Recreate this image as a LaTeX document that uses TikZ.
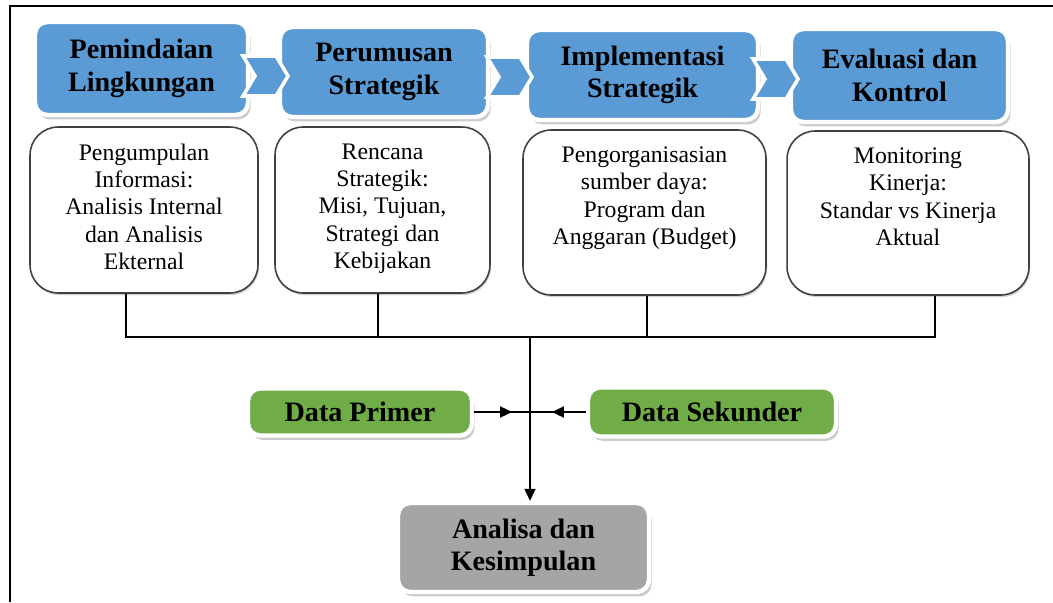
\documentclass[tikz,border=0pt]{standalone}
\usepackage{fontspec}
\setmainfont{Liberation Serif}
\usepackage{xcolor}
\usetikzlibrary{shadows,arrows.meta}
\definecolor{sblue}{HTML}{5B9BD5}
\definecolor{sgreen}{HTML}{70AD47}
\definecolor{sgray}{HTML}{A5A5A5}

\begin{document}
\begin{tikzpicture}[x=0.02cm,y=-0.02cm,
  tile/.style={draw=white,line width=2.5pt,rounded corners=7pt,align=center,
    font=\fontsize{16}{18.5}\selectfont\bfseries,
    drop shadow={shadow xshift=1.5pt,shadow yshift=-2.5pt,fill=black!40,opacity=.5}},
  desc/.style={draw=black!75,line width=0.9pt,fill=white,rounded corners=16pt,
    drop shadow={shadow xshift=0.6pt,shadow yshift=-1.2pt,fill=black!30,opacity=.6}},
  txt/.style={anchor=north,align=center,inner sep=0pt,font=\fontsize{13.5}{15.6}\selectfont},
  chev/.style={fill=sblue,draw=white,line width=2pt,line join=miter},
  bus/.style={line width=0.8pt},
  tip/.style={-{Triangle[length=2.4mm,width=2.2mm]}}]
  \useasboundingbox (0,0) rectangle (1053,602);
  \draw [line width=1pt] (10,602) -- (10,6) -- (1053,6);
  % stages
  \node [tile,fill=sblue,minimum width=4.26cm,minimum height=1.86cm] (scan) at (141.5,68.5) {Pemindaian\\Lingkungan};
  \node [tile,fill=sblue,minimum width=4.16cm,minimum height=1.8cm] (form) at (384,72) {Perumusan\\Strategik};
  \node [tile,fill=sblue,minimum width=4.62cm,minimum height=1.8cm] (impl) at (642.5,75) {Implementasi\\Strategik};
  \node [tile,fill=sblue,minimum width=4.34cm,minimum height=1.86cm] (eval) at (899.5,75.5) {Evaluasi dan\\Kontrol};
  \foreach \x/\y in {243/76,487/77,753/79}
    \draw [chev] (\x,\y-20) -- ++(33,0) -- ++(12,20) -- ++(-12,20) -- ++(-33,0) -- ++(12,-20) -- cycle;
  % descriptions
  \node [desc,minimum width=4.56cm,minimum height=3.32cm] (d1) at (144,210) {};
  \node [desc,minimum width=4.3cm,minimum height=3.32cm] (d2) at (382.5,210) {};
  \node [desc,minimum width=4.86cm,minimum height=3.3cm] (d3) at (644.5,212.5) {};
  \node [desc,minimum width=4.84cm,minimum height=3.28cm] (d4) at (908,213) {};
  \node [txt] (t1) at ([yshift=-0.34cm]d1.north) {Pengumpulan\\Informasi:\\Analisis Internal\\dan Analisis\\Ekternal};
  \node [txt] (t2) at ([yshift=-0.34cm]d2.north) {Rencana\\Strategik:\\Misi, Tujuan,\\Strategi dan\\Kebijakan};
  \node [txt] (t3) at ([yshift=-0.34cm]d3.north) {Pengorganisasian\\sumber daya:\\Program dan\\Anggaran (Budget)};
  \node [txt] (t4) at ([yshift=-0.34cm]d4.north) {Monitoring\\Kinerja:\\Standar vs Kinerja\\Aktual};
  % data and result
  \node [tile,fill=sgreen,minimum width=4.48cm,minimum height=0.94cm] (prim) at (360,412) {Data Primer};
  \node [tile,fill=sgreen,minimum width=4.96cm,minimum height=0.98cm] (sek) at (712,412) {Data Sekunder};
  \node [tile,fill=sgray,minimum width=5.02cm,minimum height=1.78cm] (res) at (523.5,547.5) {Analisa dan\\Kesimpulan};
  % connectors
  \coordinate (j1) at (126,337);
  \coordinate (j2) at (378,337);
  \coordinate (j3) at (647,337);
  \coordinate (j4) at (935,337);
  \coordinate (hub) at (530,337);
  \draw [bus] (j1 |- d1.south) -- (j1) -- (j4) -- (j4 |- d4.south);
  \draw [bus] (j2 |- d2.south) -- (j2);
  \draw [bus] (j3 |- d3.south) -- (j3);
  \draw [bus,tip] (hub) -- (hub |- res.north);
  \draw [bus] (prim) -- (sek);
  \draw [bus,tip] (prim.east) -- ++(38,0);
  \draw [bus,tip] (sek.west) -- ++(-34,0);
\end{tikzpicture}
\end{document}
